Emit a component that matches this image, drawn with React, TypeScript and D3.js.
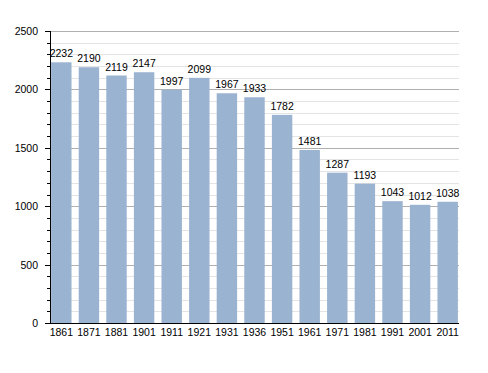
import { useEffect, useRef } from 'react'
import * as d3 from 'd3'

const years = ['1861', '1871', '1881', '1901', '1911', '1921', '1931', '1936', '1951', '1961', '1971', '1981', '1991', '2001', '2011']
const population = [2232, 2190, 2119, 2147, 1997, 2099, 1967, 1933, 1782, 1481, 1287, 1193, 1043, 1012, 1038]
const majorTicks = [0, 500, 1000, 1500, 2000, 2500]

export default function App() {
  const svgRef = useRef<SVGSVGElement>(null)

  useEffect(() => {
    if (!svgRef.current) return
    const svg = d3.select(svgRef.current)
    svg.selectAll('*').remove()

    const left = 50
    const right = 459
    const top = 31
    const bottom = 323
    const font = 'Liberation Sans, Arial, sans-serif'

    const x = d3.scaleBand<string>()
      .domain(years)
      .range([left, right])
      .paddingInner(0.26)
      .paddingOuter(0.04)

    const y = d3.scaleLinear()
      .domain([0, 2500])
      .range([bottom, top])

    const minorTicks = d3.range(0, 2501, 100).filter(v => v % 500 !== 0)

    // minor grid
    svg.append('g')
      .selectAll('line')
      .data(minorTicks)
      .enter().append('line')
      .attr('x1', left)
      .attr('x2', right)
      .attr('y1', d => Math.round(y(d)) + 0.5)
      .attr('y2', d => Math.round(y(d)) + 0.5)
      .attr('stroke', '#e4e4e4')

    // major grid
    svg.append('g')
      .selectAll('line')
      .data(majorTicks.filter(v => v > 0))
      .enter().append('line')
      .attr('x1', left)
      .attr('x2', right)
      .attr('y1', d => Math.round(y(d)) + 0.5)
      .attr('y2', d => Math.round(y(d)) + 0.5)
      .attr('stroke', '#b0b0b0')

    // bars
    svg.append('g')
      .selectAll('rect')
      .data(population)
      .enter().append('rect')
      .attr('x', (_, i) => x(years[i])!)
      .attr('y', d => y(d))
      .attr('width', x.bandwidth())
      .attr('height', d => bottom - y(d))
      .attr('fill', '#9ab3d0')

    // value labels
    svg.append('g')
      .selectAll('text')
      .data(population)
      .enter().append('text')
      .attr('x', (_, i) => x(years[i])! + x.bandwidth() / 2)
      .attr('y', d => y(d) - 5)
      .attr('text-anchor', 'middle')
      .style('font-family', font)
      .style('font-size', '10.5px')
      .attr('fill', '#000')
      .text(d => String(d))

    // y axis ticks
    svg.append('g')
      .selectAll('line')
      .data(minorTicks)
      .enter().append('line')
      .attr('x1', left - 3)
      .attr('x2', left)
      .attr('y1', d => Math.round(y(d)) + 0.5)
      .attr('y2', d => Math.round(y(d)) + 0.5)
      .attr('stroke', '#000')

    svg.append('g')
      .selectAll('line')
      .data(majorTicks)
      .enter().append('line')
      .attr('x1', left - 5)
      .attr('x2', left)
      .attr('y1', d => Math.round(y(d)) + 0.5)
      .attr('y2', d => Math.round(y(d)) + 0.5)
      .attr('stroke', '#000')

    svg.append('g')
      .selectAll('text')
      .data(majorTicks)
      .enter().append('text')
      .attr('x', left - 12)
      .attr('y', d => y(d) + 4)
      .attr('text-anchor', 'end')
      .style('font-family', font)
      .style('font-size', '10.5px')
      .attr('fill', '#000')
      .text(d => String(d))

    // axis lines
    svg.append('line')
      .attr('x1', left + 0.5)
      .attr('x2', left + 0.5)
      .attr('y1', top)
      .attr('y2', bottom)
      .attr('stroke', '#000')

    svg.append('line')
      .attr('x1', left)
      .attr('x2', right)
      .attr('y1', bottom + 0.5)
      .attr('y2', bottom + 0.5)
      .attr('stroke', '#000')

    // x labels
    svg.append('g')
      .selectAll('text')
      .data(years)
      .enter().append('text')
      .attr('x', d => x(d)! + x.bandwidth() / 2)
      .attr('y', bottom + 13)
      .attr('text-anchor', 'middle')
      .style('font-family', font)
      .style('font-size', '10.5px')
      .attr('fill', '#000')
      .text(d => d)
  }, [])

  return (
    <svg
      ref={svgRef}
      width={488}
      height={373}
      style={{ position: 'absolute', left: 0, top: 0, background: '#fff' }}
    />
  )
}
